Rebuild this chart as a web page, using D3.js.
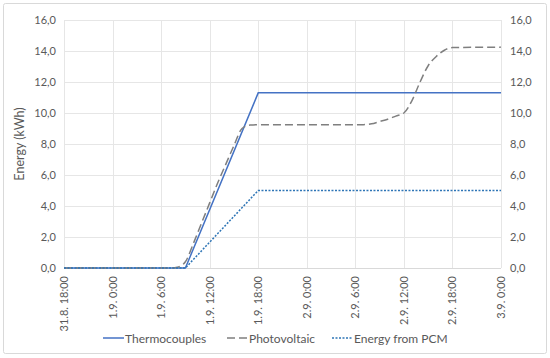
<!doctype html>
<html>
<head>
<meta charset="utf-8">
<script src="https://cdn.jsdelivr.net/npm/d3@7"></script>
<style>
  body { margin: 0; background: #fff; }
  text { font-family: Lato, "Open Sans", sans-serif; fill: #595959; }
</style>
</head>
<body>
<svg width="550" height="358"></svg>
<script>
// hours counted from 31.8. 18:00
var tickLabels = ["31.8. 18:00", "1.9. 0:00", "1.9. 6:00", "1.9. 12:00", "1.9. 18:00",
                  "2.9. 0:00", "2.9. 6:00", "2.9. 12:00", "2.9. 18:00", "3.9. 0:00"];
var tickHours = [0, 6, 12, 18, 24, 30, 36, 42, 48, 54];
var yTicks = [0, 2, 4, 6, 8, 10, 12, 14, 16];

var thermoHours = [0, 15, 24, 54];
var thermoVals  = [0, 0, 11.3, 11.3];

var pcmHours = [0, 15, 24, 54];
var pcmVals  = [0, 0, 5.0, 5.0];

var pvHours = [0, 13, 14, 15, 16, 17, 18, 19, 20, 21, 22, 23, 24, 30, 37, 38, 39, 40, 41, 42, 43, 44, 45, 46, 47, 48, 54];
var pvVals  = [0, 0, 0.05, 0.4, 1.6, 2.9, 4.2, 5.5, 6.7, 7.9, 9.0, 9.22, 9.25, 9.25, 9.25, 9.3, 9.45, 9.6, 9.8, 10.0, 10.8, 12.0, 13.05, 13.65, 14.05, 14.22, 14.25];

var series = [
  {name: "Thermocouples", hours: thermoHours, vals: thermoVals, color: "#4472C4", dash: null, curve: d3.curveLinear},
  {name: "Photovoltaic", hours: pvHours, vals: pvVals, color: "#7F7F7F", dash: "8,4", curve: d3.curveMonotoneX},
  {name: "Energy from PCM", hours: pcmHours, vals: pcmVals, color: "#2E75B6", dash: "2,1.5", curve: d3.curveLinear}
];

var svg = d3.select("svg");
var plotLeft = 64, plotRight = 501, plotTop = 20, plotBottom = 268;

var x = d3.scaleLinear().domain([0, 54]).range([plotLeft, plotRight]);
var y = d3.scaleLinear().domain([0, 16]).range([plotBottom, plotTop]);

// chart border
svg.append("rect").attr("x", 3.5).attr("y", 3.5).attr("width", 543).attr("height", 350)
  .attr("fill", "#fff").attr("stroke", "#D9D9D9").attr("rx", 2);

// grid
svg.append("g").selectAll("line").data(yTicks.slice(1)).enter().append("line")
  .attr("x1", plotLeft).attr("x2", plotRight)
  .attr("y1", function(d) { return Math.round(y(d)) + 0.5; })
  .attr("y2", function(d) { return Math.round(y(d)) + 0.5; })
  .attr("stroke", "#E6E6E6");
svg.append("g").selectAll("line").data(tickHours).enter().append("line")
  .attr("x1", function(d) { return Math.round(x(d)) + 0.5; })
  .attr("x2", function(d) { return Math.round(x(d)) + 0.5; })
  .attr("y1", plotTop).attr("y2", plotBottom)
  .attr("stroke", "#E6E6E6");
// zero axis
svg.append("line").attr("x1", plotLeft).attr("x2", plotRight)
  .attr("y1", Math.round(y(0)) + 0.5).attr("y2", Math.round(y(0)) + 0.5)
  .attr("stroke", "#D9D9D9");

// y labels left and right
var fmt = function(d) { return d.toFixed(1).replace(".", ","); };
svg.append("g").selectAll("text").data(yTicks).enter().append("text")
  .attr("x", 56).attr("y", function(d) { return y(d) + 4; })
  .attr("text-anchor", "end").attr("font-size", 11).text(fmt);
svg.append("g").selectAll("text").data(yTicks).enter().append("text")
  .attr("x", 510).attr("y", function(d) { return y(d) + 4; })
  .attr("text-anchor", "start").attr("font-size", 11).text(fmt);

// x labels rotated
svg.append("g").selectAll("text").data(tickHours).enter().append("text")
  .attr("transform", function(d) { return "translate(" + (x(d) + 4) + ",276) rotate(-90)"; })
  .attr("text-anchor", "end").attr("font-size", 11)
  .text(function(d, i) { return tickLabels[i]; });

// y title
svg.append("text").attr("transform", "translate(24,144) rotate(-90)")
  .attr("text-anchor", "middle").attr("font-size", 12.5).text("Energy  (kWh)");

// lines
series.forEach(function(s) {
  var pts = s.hours.map(function(h, i) { return [h, s.vals[i]]; });
  var line = d3.line().x(function(d) { return x(d[0]); }).y(function(d) { return y(d[1]); }).curve(s.curve);
  svg.append("path").attr("d", line(pts)).attr("fill", "none")
    .attr("stroke", s.color).attr("stroke-width", 1.5)
    .attr("stroke-dasharray", s.dash);
});

// legend
var legendX = [103, 227, 332];
var lg = svg.append("g").selectAll("g").data(series).enter().append("g")
  .attr("transform", function(d, i) { return "translate(" + legendX[i] + ",338)"; });
lg.append("line").attr("x1", 0).attr("x2", 21).attr("y1", 0).attr("y2", 0)
  .attr("stroke", function(d) { return d.color; }).attr("stroke-width", 1.5)
  .attr("stroke-dasharray", function(d) { return d.dash; });
lg.append("text").attr("x", 22).attr("y", 4.5).attr("font-size", 12).text(function(d) { return d.name; });
</script>
</body>
</html>
